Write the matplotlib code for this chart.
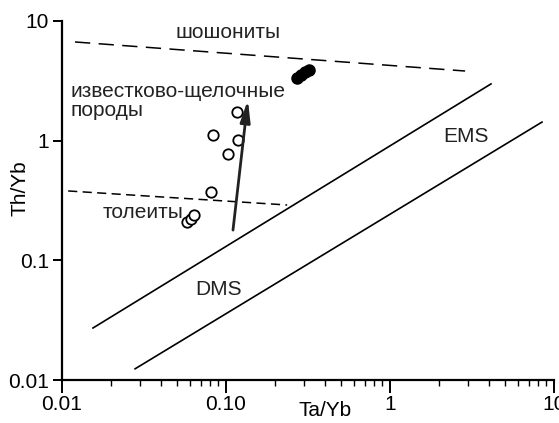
import matplotlib
matplotlib.use("Agg")
import matplotlib.pyplot as plt
from matplotlib.ticker import FixedLocator, FixedFormatter, LogLocator, NullFormatter, NullLocator

plt.rcParams['font.family'] = ['Liberation Sans', 'DejaVu Sans']

# Ta/Yb vs Th/Yb samples
open_x = [0.117, 0.083, 0.118, 0.103, 0.081, 0.058, 0.061, 0.064]
open_y = [1.74, 1.12, 1.01, 0.77, 0.37, 0.209, 0.222, 0.239]
filled_x = [0.271, 0.287, 0.303, 0.321]
filled_y = [3.34, 3.55, 3.75, 3.90]

# boundary lines (endpoints)
shosh_x = [0.012, 2.87]
shosh_y = [6.68, 3.82]
thol_x = [0.0109, 0.236]
thol_y = [0.38, 0.29]
dms_upper_x = [0.01545, 4.13]
dms_upper_y = [0.0272, 2.98]
dms_lower_x = [0.0279, 8.45]
dms_lower_y = [0.0124, 1.43]

# trend arrow
arrow_from = (0.1103, 0.179)
arrow_to = (0.136, 2.19)

xticks = [0.01, 0.1, 1, 10]
xtick_labels = ['0.01', '0.10', '1', '10']
yticks = [0.01, 0.1, 1, 10]
ytick_labels = ['0.01', '0.1', '1', '10']

fig = plt.figure(figsize=(5.59, 4.23), dpi=100)
ax = fig.add_axes([62 / 559, 43 / 423, 492 / 559, 359 / 423])
ax.set_xscale('log')
ax.set_yscale('log')
ax.set_xlim(0.01, 10)
ax.set_ylim(0.01, 10)

ax.plot(shosh_x, shosh_y, color='black', lw=1.1, dashes=(10, 5.5))
ax.plot(thol_x, thol_y, color='black', lw=1.1, dashes=(6, 3.5))
ax.plot(dms_upper_x, dms_upper_y, color='black', lw=1.2)
ax.plot(dms_lower_x, dms_lower_y, color='black', lw=1.2)

ax.plot(open_x, open_y, 'o', ms=7.5, mfc='white', mec='black', mew=1.3)
ax.plot(filled_x, filled_y, 'o', ms=8, mfc='black', mec='black')

ax.annotate('', xy=arrow_to, xytext=arrow_from,
            arrowprops=dict(arrowstyle='-|>,head_length=1.3,head_width=0.3',
                            color='#222222', lw=2, shrinkA=0, shrinkB=0))

fs = 15
ax.text(0.0489, 7.21, 'шошониты', fontsize=fs, color='#222222')
ax.text(0.0112, 2.30, 'известково-щелочные', fontsize=fs, color='#222222')
ax.text(0.0112, 1.60, 'породы', fontsize=fs, color='#222222')
ax.text(0.0178, 0.226, 'толеиты', fontsize=fs, color='#222222')
ax.text(0.0647, 0.0514, 'DMS', fontsize=fs, color='#222222')
ax.text(2.10, 0.975, 'EMS', fontsize=fs, color='#222222')

for side in ['top', 'right']:
    ax.spines[side].set_visible(False)
for side in ['left', 'bottom']:
    ax.spines[side].set_linewidth(1.6)

ax.xaxis.set_major_locator(FixedLocator(xticks))
ax.xaxis.set_major_formatter(FixedFormatter(xtick_labels))
ax.xaxis.set_minor_locator(LogLocator(base=10, subs=range(2, 10)))
ax.xaxis.set_minor_formatter(NullFormatter())
ax.yaxis.set_major_locator(FixedLocator(yticks))
ax.yaxis.set_major_formatter(FixedFormatter(ytick_labels))
ax.yaxis.set_minor_locator(NullLocator())

ax.tick_params(axis='x', which='major', length=9, width=1.4, labelsize=fs, pad=2)
ax.tick_params(axis='x', which='minor', length=4.5, width=1.0)
ax.tick_params(axis='y', which='major', length=6.5, width=1.4, labelsize=fs, pad=3)

ax.text(-0.085, 0.533, 'Th/Yb', transform=ax.transAxes, rotation=90,
        fontsize=fs, ha='center', va='center')
ax.text(0.535, -0.1, 'Ta/Yb', transform=ax.transAxes,
        fontsize=fs, ha='center', va='baseline')

fig.savefig('out.png', dpi=100)
